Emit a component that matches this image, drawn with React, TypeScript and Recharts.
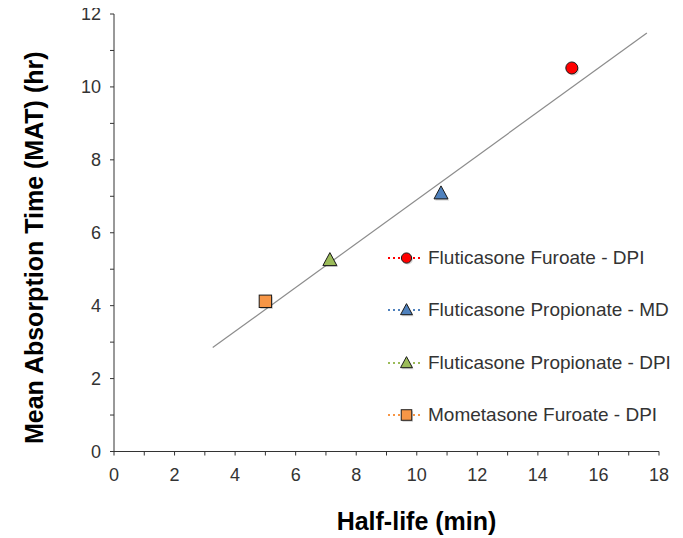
import React from 'react';
import { ScatterChart, Scatter, XAxis, YAxis, ReferenceLine } from 'recharts';

// half-life (min) vs mean absorption time (hr), one point per product
const fluticasoneFuroateDpi = [{ x: 15.12, y: 10.52 }];
const fluticasonePropionateMd = [{ x: 10.8, y: 7.08 }];
const fluticasonePropionateDpi = [{ x: 7.13, y: 5.25 }];
const mometasoneFuroateDpi = [{ x: 5.0, y: 4.12 }];

// end points of the fitted trend line
const trendLine = [{ x: 3.26, y: 2.85 }, { x: 17.6, y: 11.48 }];

const xTicks = [0, 1, 2, 3, 4, 5, 6, 7, 8, 9, 10, 11, 12, 13, 14, 15, 16, 17, 18];
const yTicks = [0, 1, 2, 3, 4, 5, 6, 7, 8, 9, 10, 11, 12];

const FONT = '"Liberation Sans", Arial, sans-serif';

type MarkerKind = 'circle' | 'triangle' | 'square';

const Marker = ({ kind, cx, cy, fill, s = 1 }: { kind: MarkerKind; cx: number; cy: number; fill: string; s?: number }) => {
    const draw = (dx: number, dy: number, color: string, stroke: string) => {
        const x = cx + dx;
        const y = cy + dy;
        if (kind === 'circle') return <circle cx={x} cy={y} r={6 * s} fill={color} stroke={stroke} strokeWidth={1} />;
        if (kind === 'square') return <rect x={x - 6.2 * s} y={y - 6.2 * s} width={12.4 * s} height={12.4 * s} fill={color} stroke={stroke} strokeWidth={1} />;
        const pts = `${x},${y - 7.5 * s} ${x - 7 * s},${y + 5.5 * s} ${x + 7 * s},${y + 5.5 * s}`;
        return <polygon points={pts} fill={color} stroke={stroke} strokeWidth={1} strokeLinejoin="round" />;
    };
    return (
        <g>
            {draw(1.2, 1.5, 'rgba(0,0,0,0.18)', 'none')}
            {draw(0, 0, fill, '#1a1a1a')}
        </g>
    );
};

const series = [
    { name: 'Fluticasone Furoate - DPI', data: fluticasoneFuroateDpi, color: '#ff0000', kind: 'circle' as MarkerKind },
    { name: 'Fluticasone Propionate - MD', data: fluticasonePropionateMd, color: '#4f81bd', kind: 'triangle' as MarkerKind },
    { name: 'Fluticasone Propionate - DPI', data: fluticasonePropionateDpi, color: '#9bbb59', kind: 'triangle' as MarkerKind },
    { name: 'Mometasone Furoate - DPI', data: mometasoneFuroateDpi, color: '#f79646', kind: 'square' as MarkerKind },
];

const LegendBox = () => (
    <div style={{ position: 'absolute', left: 379, top: 224, fontFamily: FONT, fontSize: 19, color: '#333' }}>
        {series.map((s) => (
            <div key={s.name} style={{ height: 52.3, display: 'flex', alignItems: 'center', whiteSpace: 'nowrap' }}>
                <svg width={37} height={16} style={{ marginRight: 4 }}>
                    <line x1={1} y1={8} x2={36} y2={8} stroke={s.color} strokeWidth={2} strokeDasharray="2 3" />
                    <Marker kind={s.kind} cx={19.5} cy={8} fill={s.color} s={0.85} />
                </svg>
                <span>{s.name}</span>
            </div>
        ))}
    </div>
);

const titleStyle = { fill: '#000', fontSize: 25, fontWeight: 'bold' as const, fontFamily: FONT };

const XTitle = (props: any) => {
    const vb = props.viewBox;
    const x = vb.x + vb.width / 2 + 30;
    const y = vb.y + 69;
    return <text x={x} y={y} textAnchor="middle" dominantBaseline="central" {...titleStyle}>Half-life (min)</text>;
};

const YTitle = (props: any) => {
    const vb = props.viewBox;
    const x = 26;
    const y = vb.y + vb.height / 2 + 15;
    return (
        <text x={x} y={y} transform={`rotate(-90, ${x}, ${y})`} textAnchor="middle" dominantBaseline="central" {...titleStyle}>
            Mean Absorption Time (MAT) (hr)
        </text>
    );
};

const App = () => (
    <div style={{ position: 'relative', width: 675, height: 530 }}>
        <ScatterChart width={675} height={530} margin={{ top: 6, right: 24, bottom: 0, left: 0 }}>
            <XAxis
                type="number"
                dataKey="x"
                domain={[0, 18]}
                ticks={xTicks}
                interval={0}
                tickFormatter={(v: number) => (v % 2 === 0 ? String(v) : '')}
                axisLine={{ stroke: '#333' }}
                tickLine={{ stroke: '#333' }}
                tickSize={4}
                tickMargin={13}
                tick={{ fill: '#333', fontSize: 18, fontFamily: FONT }}
                height={86.5}
                label={{ content: XTitle }}
            />
            <YAxis
                type="number"
                dataKey="y"
                domain={[0, 12]}
                ticks={yTicks}
                interval={0}
                tickFormatter={(v: number) => (v % 2 === 0 ? String(v) : '')}
                axisLine={{ stroke: '#333' }}
                tickLine={{ stroke: '#333' }}
                tickSize={4}
                tickMargin={9}
                tick={{ fill: '#333', fontSize: 18, fontFamily: FONT }}
                width={106}
                label={{ content: YTitle }}
            />
            <ReferenceLine segment={trendLine} stroke="#8c8c8c" strokeWidth={1.2} ifOverflow="extendDomain" />
            {series.map((s) => (
                <Scatter
                    key={s.name}
                    name={s.name}
                    data={s.data}
                    fill={s.color}
                    isAnimationActive={false}
                    shape={(p: any) => <Marker kind={s.kind} cx={p.cx} cy={p.cy} fill={s.color} />}
                />
            ))}
        </ScatterChart>
        <LegendBox />
    </div>
);

export default App;
